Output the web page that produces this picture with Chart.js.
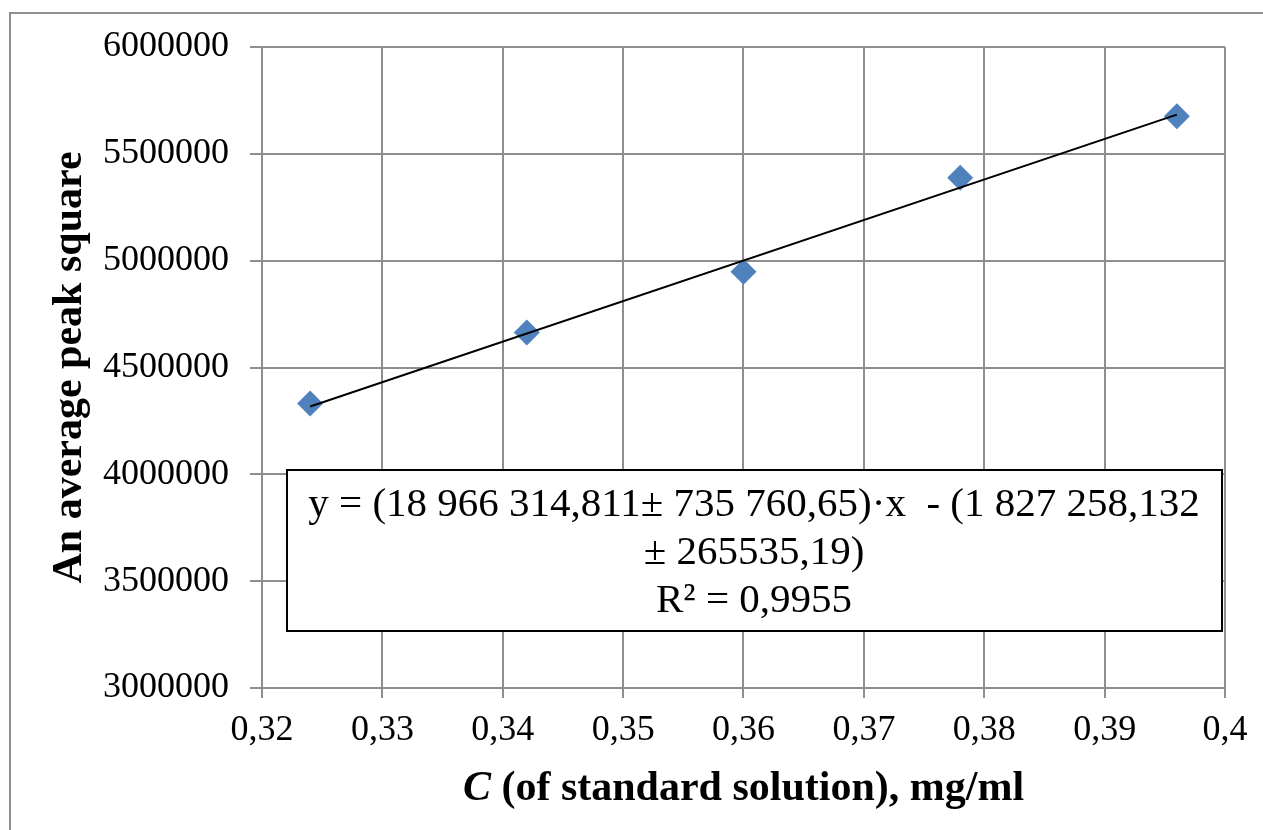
<!DOCTYPE html>
<html>
<head>
<meta charset="utf-8">
<script src="https://cdn.jsdelivr.net/npm/chart.js@4.4.0/dist/chart.umd.min.js"></script>
<style>
  html, body { margin: 0; padding: 0; background: #fff; }
  #wrap { position: relative; width: 1263px; height: 830px; overflow: hidden; }
  #frame { position: absolute; left: 9px; top: 12px; width: 1320px; height: 900px; border: 2px solid #8f8f8f; }
  canvas { position: absolute; left: 0; top: 0; }
</style>
</head>
<body>
<div id="wrap">
  <div id="frame"></div>
  <canvas id="chart" width="1263" height="830"></canvas>
</div>
<script>
const concentrations = [0.324, 0.342, 0.36, 0.378, 0.396];
const peakAreas = [4332000, 4664000, 4948000, 5388000, 5676000];

// linear trendline ends (first and last concentration)
const trendX = [0.324, 0.396];
const trendY = [4317800, 5683400];

const xTickLabels = ["0,32", "0,33", "0,34", "0,35", "0,36", "0,37", "0,38", "0,39", "0,4"];
const yTickLabels = ["3000000", "3500000", "4000000", "4500000", "5000000", "5500000", "6000000"];

const equationLines = [
  "y = (18 966 314,811\u00b1 735 760,65)\u00b7x  - (1 827 258,132",
  "\u00b1 265535,19)",
  "R\u00b2 = 0,9955"
];
const xTitleItalic = "C";
const xTitleRest = " (of standard solution), mg/ml";
const yTitle = "An average peak square";

const FONT = '"Liberation Serif", "Times New Roman", serif';
const GRID = '#8e8e8e';

Chart.defaults.font.family = FONT;
Chart.defaults.color = '#000';

const annotations = {
  id: 'annotations',
  afterDatasetsDraw(chart) {
    const ctx = chart.ctx;
    ctx.save();
    // equation box
    ctx.fillStyle = '#fff';
    ctx.fillRect(287, 470, 935, 161);
    ctx.strokeStyle = '#000';
    ctx.lineWidth = 2;
    ctx.strokeRect(287, 470, 935, 161);
    ctx.fillStyle = '#000';
    ctx.font = '41px ' + FONT;
    ctx.textAlign = 'center';
    ctx.textBaseline = 'alphabetic';
    equationLines.forEach((line, i) => {
      ctx.fillText(line, 754, 516 + i * 48);
    });
    ctx.restore();
  },
  afterDraw(chart) {
    const ctx = chart.ctx;
    const area = chart.chartArea;
    ctx.save();
    ctx.fillStyle = '#000';
    ctx.textBaseline = 'alphabetic';
    ctx.textAlign = 'left';
    const italicFont = 'italic bold 42px ' + FONT;
    const boldFont = 'bold 42px ' + FONT;
    ctx.font = italicFont;
    const w1 = ctx.measureText(xTitleItalic).width;
    ctx.font = boldFont;
    const w2 = ctx.measureText(xTitleRest).width;
    const startX = (area.left + area.right) / 2 - (w1 + w2) / 2;
    ctx.font = italicFont;
    ctx.fillText(xTitleItalic, startX, 800);
    ctx.font = boldFont;
    ctx.fillText(xTitleRest, startX + w1, 800);
    ctx.restore();
  }
};

const ctx = document.getElementById('chart').getContext('2d');
new Chart(ctx, {
  type: 'scatter',
  data: {
    datasets: [
      {
        label: 'Trend',
        data: trendX.map((x, i) => ({ x: x, y: trendY[i] })),
        showLine: true,
        borderColor: '#000',
        borderWidth: 2,
        pointRadius: 0,
        order: 0
      },
      {
        label: 'Peak square',
        data: concentrations.map((x, i) => ({ x: x, y: peakAreas[i] })),
        pointStyle: 'rectRot',
        pointRadius: 13,
        pointHoverRadius: 13,
        backgroundColor: '#4f81bd',
        borderColor: '#4f81bd',
        borderWidth: 0,
        order: 1
      }
    ]
  },
  options: {
    responsive: false,
    animation: false,
    devicePixelRatio: 1,
    layout: { padding: { left: 0, right: 38, top: 47, bottom: 0 } },
    plugins: {
      legend: { display: false },
      tooltip: { enabled: false }
    },
    scales: {
      x: {
        type: 'linear',
        min: 0.32,
        max: 0.4,
        afterFit: (scale) => { scale.height = 142; },
        grid: { color: GRID, lineWidth: 2, tickLength: 10, tickColor: GRID },
        border: { color: GRID, width: 2 },
        ticks: {
          stepSize: 0.01,
          padding: 11,
          maxRotation: 0,
          font: { size: 36 },
          color: '#000',
          callback: (value) => xTickLabels[Math.round((value - 0.32) * 100)]
        }
      },
      y: {
        type: 'linear',
        min: 3000000,
        max: 6000000,
        afterFit: (scale) => { scale.width = 262; },
        grid: { color: GRID, lineWidth: 2, tickLength: 12, tickColor: GRID },
        border: { color: GRID, width: 2 },
        ticks: {
          stepSize: 500000,
          padding: 21,
          font: { size: 36 },
          color: '#000',
          callback: (value) => yTickLabels[Math.round((value - 3000000) / 500000)]
        },
        title: {
          display: true,
          text: yTitle,
          color: '#000',
          font: { size: 42, weight: 'bold' },
          padding: { top: 45, bottom: 0 }
        }
      }
    }
  },
  plugins: [annotations]
});
</script>
</body>
</html>
